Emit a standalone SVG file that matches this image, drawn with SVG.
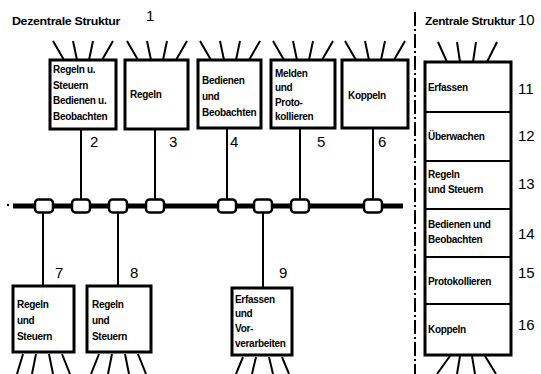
<svg xmlns="http://www.w3.org/2000/svg" width="541" height="374" viewBox="0 0 541 374">
<style>
.box{fill:#fff;stroke:#000;stroke-width:3}
.ln{stroke:#000;stroke-width:2;fill:none}
.ray{stroke:#000;stroke-width:2;fill:none}
.bus{stroke:#000;stroke-width:5;fill:none}
.con{fill:#fff;stroke:#000;stroke-width:2.5}
.t{font-family:"Liberation Sans",Arial,sans-serif;font-size:10px;font-weight:bold;fill:#000;letter-spacing:-0.3px}
.n{font-family:"Liberation Sans",Arial,sans-serif;font-size:15px;fill:#000}
.h{font-family:"Liberation Sans",Arial,sans-serif;font-size:11px;font-weight:bold;fill:#000;letter-spacing:-0.3px}
</style>
<rect width="541" height="374" fill="#fff"/>
<text class="h" x="12" y="25" textLength="108" lengthAdjust="spacingAndGlyphs">Dezentrale Struktur</text>
<text class="n" x="146" y="21">1</text>
<text class="h" x="425" y="25" textLength="90" lengthAdjust="spacingAndGlyphs">Zentrale Struktur</text>
<text class="n" x="518" y="25">10</text>
<line x1="415" y1="12" x2="415" y2="374" stroke="#000" stroke-width="2" stroke-dasharray="14 3 2 3"/>
<circle cx="8" cy="205" r="1.2" fill="#000"/>
<g id="connectors">
<line class="bus" x1="13" y1="206" x2="403" y2="206"/>
<line class="ln" x1="81" y1="129" x2="81" y2="200"/>
<line class="ln" x1="155" y1="129" x2="155" y2="200"/>
<line class="ln" x1="227" y1="128" x2="227" y2="200"/>
<line class="ln" x1="300" y1="128" x2="300" y2="200"/>
<line class="ln" x1="373" y1="128" x2="373" y2="200"/>
<line class="ln" x1="43" y1="212" x2="43" y2="286"/>
<line class="ln" x1="118" y1="212" x2="118" y2="286"/>
<line class="ln" x1="263" y1="212" x2="263" y2="288"/>
<rect class="con" x="35" y="199.5" width="18" height="13" rx="3.5"/>
<rect class="con" x="72" y="199.5" width="18" height="13" rx="3.5"/>
<rect class="con" x="109" y="199.5" width="18" height="13" rx="3.5"/>
<rect class="con" x="146" y="199.5" width="18" height="13" rx="3.5"/>
<rect class="con" x="218" y="199.5" width="18" height="13" rx="3.5"/>
<rect class="con" x="254" y="199.5" width="18" height="13" rx="3.5"/>
<rect class="con" x="291" y="199.5" width="18" height="13" rx="3.5"/>
<rect class="con" x="364" y="199.5" width="18" height="13" rx="3.5"/>
</g>
<g id="node2">
<path class="ray" d="M53,41 L64,60 M73,41 L77,60 M93,41 L89,60 M113,41 L102,60"/>
<rect class="box" x="50" y="60" width="66" height="69"/>
<text class="t" x="53" y="73">Regeln u.</text>
<text class="t" x="53" y="89">Steuern</text>
<text class="t" x="53" y="104">Bedienen u.</text>
<text class="t" x="53" y="120">Beobachten</text>
<text class="n" x="90" y="147">2</text>
</g>
<g id="node3">
<path class="ray" d="M127,41 L138,60 M147,41 L151,60 M167,41 L163,60 M187,41 L176,60"/>
<rect class="box" x="125" y="60" width="63" height="69"/>
<text class="t" x="130" y="98">Regeln</text>
<text class="n" x="169" y="147">3</text>
</g>
<g id="node4">
<path class="ray" d="M200,41 L211,60 M220,41 L224,60 M240,41 L236,60 M260,41 L249,60"/>
<rect class="box" x="198" y="60" width="63" height="68"/>
<text class="t" x="202" y="84">Bedienen</text>
<text class="t" x="202" y="100">und</text>
<text class="t" x="202" y="116">Beobachten</text>
<text class="n" x="230" y="147">4</text>
</g>
<g id="node5">
<path class="ray" d="M273,41 L284,60 M293,41 L297,60 M313,41 L309,60 M333,41 L322,60"/>
<rect class="box" x="271" y="60" width="64" height="68"/>
<text class="t" x="275" y="77">Melden</text>
<text class="t" x="275" y="91">und</text>
<text class="t" x="275" y="106">Proto-</text>
<text class="t" x="275" y="120">kollieren</text>
<text class="n" x="317" y="147">5</text>
</g>
<g id="node6">
<path class="ray" d="M345,41 L356,60 M365,41 L369,60 M385,41 L381,60 M405,41 L394,60"/>
<rect class="box" x="342" y="60" width="66" height="68"/>
<text class="t" x="348" y="99">Koppeln</text>
<text class="n" x="378" y="147">6</text>
</g>
<g id="node7">
<rect class="box" x="13" y="286" width="61" height="66"/>
<text class="t" x="17" y="308">Regeln</text>
<text class="t" x="17" y="324">und</text>
<text class="t" x="17" y="340">Steuern</text>
<path class="ray" d="M23,354 L17,374 M36,354 L32,374 M49,354 L53,374 M62,354 L70,374"/>
<text class="n" x="55" y="278">7</text>
</g>
<g id="node8">
<rect class="box" x="87" y="286" width="64" height="66"/>
<text class="t" x="92" y="308">Regeln</text>
<text class="t" x="92" y="324">und</text>
<text class="t" x="92" y="340">Steuern</text>
<path class="ray" d="M99,354 L91,374 M112,354 L108,374 M125,354 L129,374 M138,354 L146,374"/>
<text class="n" x="130" y="278">8</text>
</g>
<g id="node9">
<rect class="box" x="232" y="288" width="60" height="67"/>
<text class="t" x="235" y="303">Erfassen</text>
<text class="t" x="235" y="317">und</text>
<text class="t" x="235" y="332">Vor-</text>
<text class="t" x="235" y="347">verarbeiten</text>
<path class="ray" d="M243,357 L236,374 M256,357 L252,374 M269,357 L273,374 M282,357 L289,374"/>
<text class="n" x="279" y="278">9</text>
</g>
<g id="node-central">
<path class="ray" d="M438,42 L447,62 M457,42 L460,62 M476,42 L473,62 M497,42 L487,62"/>
<rect class="box" x="425" y="62" width="86" height="293"/>
<path class="ln" d="M425,112 H511 M425,161 H511 M425,209 H511 M425,257 H511 M425,304 H511" stroke-width="2.5"/>
<path class="ray" d="M450,356 L437,374 M460,356 L457,374 M472,356 L475,374 M485,356 L496,374"/>
</g>
<g id="node11"><text class="t" x="428" y="91">Erfassen</text><text class="n" x="518" y="94">11</text></g>
<g id="node12"><text class="t" x="428" y="140">Überwachen</text><text class="n" x="518" y="141">12</text></g>
<g id="node13"><text class="t" x="428" y="178">Regeln</text><text class="t" x="428" y="193">und Steuern</text><text class="n" x="518" y="189">13</text></g>
<g id="node14"><text class="t" x="428" y="228">Bedienen und</text><text class="t" x="428" y="243">Beobachten</text><text class="n" x="518" y="239">14</text></g>
<g id="node15"><text class="t" x="428" y="285">Protokollieren</text><text class="n" x="518" y="278">15</text></g>
<g id="node16"><text class="t" x="428" y="333">Koppeln</text><text class="n" x="518" y="330">16</text></g>
</svg>
